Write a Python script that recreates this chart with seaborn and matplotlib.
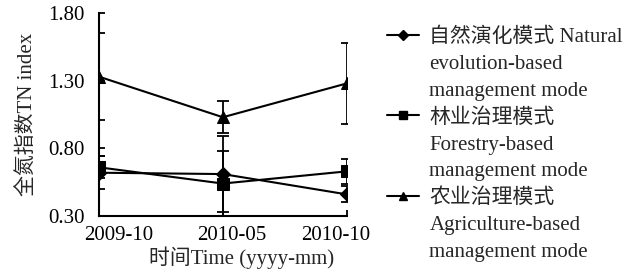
import seaborn as sns
import pandas as pd
import matplotlib.pyplot as plt
from matplotlib.lines import Line2D
from matplotlib.transforms import ScaledTranslation

# Data
times = ["2009-10", "2010-05", "2010-10"]
natural_mean = [0.62, 0.61, 0.46]
natural_err = [0.12, 0.28, 0.06]
forestry_mean = [0.66, 0.54, 0.63]
forestry_err = [0.08, 0.24, 0.09]
agri_mean = [1.33, 1.03, 1.28]
agri_err = [0.32, 0.12, 0.30]

modes = ["natural", "forestry", "agri"]
marker_map = {"natural": "D", "forestry": "s", "agri": "^"}
size_map = {"natural": 7, "forestry": 8, "agri": 9}
legend_labels = [
    ["自然演化模式 Natural", "evolution-based", "management mode"],
    ["林业治理模式", "Forestry-based", "management mode"],
    ["农业治理模式", "Agriculture-based", "management mode"],
]

df = pd.DataFrame({
    "Time": times * 3,
    "TN": natural_mean + forestry_mean + agri_mean,
    "err": natural_err + forestry_err + agri_err,
    "Mode": [m for m in modes for _ in times],
})

sns.set_theme(style="ticks")
plt.rcParams["font.family"] = ["Liberation Serif", "Noto Sans CJK SC"]
plt.rcParams["font.size"] = 15

fig = plt.figure(figsize=(6.34, 2.75), dpi=100)
ax = fig.add_axes([0.156, 0.2145, 0.391, 0.738])

for m in modes:
    sub = df[df["Mode"] == m]
    sns.lineplot(data=sub, x="Time", y="TN", ax=ax, color="black", lw=1.5,
                 marker=marker_map[m], markersize=size_map[m],
                 markeredgecolor="black", legend=False, sort=False)
    ax.errorbar(range(len(times)), sub["TN"], yerr=sub["err"], fmt="none",
                ecolor="black", elinewidth=1.3, capsize=4, capthick=1.3)

ax.set_xlim(0, 2)
ax.set_ylim(0.30, 1.80)
ax.set_yticks([0.30, 0.80, 1.30, 1.80])
ax.set_yticklabels(["0.30", "0.80", "1.30", "1.80"])
ax.set_xticks([0, 1, 2])
ax.set_xticklabels(times)
ax.tick_params(direction="in", length=4, width=1.3, colors="black",
               labelsize=15)
ax.tick_params(axis="y", pad=10)
ax.tick_params(axis="x", pad=7)
for sp in ["top", "right"]:
    ax.spines[sp].set_visible(False)
for sp in ["left", "bottom"]:
    ax.spines[sp].set_linewidth(1.5)
    ax.spines[sp].set_color("black")

# nudge x tick labels like the original layout
for lab, dx in zip(ax.get_xticklabels(), [20, 9, -11]):
    lab.set_transform(lab.get_transform() + ScaledTranslation(dx / 100, 0, fig.dpi_scale_trans))

ax.set_xlabel("时间Time (yyyy-mm)", fontsize=15)
ax.set_ylabel("全氮指数TN index", fontsize=15)
ax.xaxis.set_label_coords(0.577, -0.15)
ax.yaxis.set_label_coords(-0.245, 0.50)

handles, labels = [], []
for m, labs in zip(modes, legend_labels):
    handles.append(Line2D([], [], color="black", lw=1.5, marker=marker_map[m],
                          markersize=size_map[m] * 0.7))
    labels.append(labs[0])
    for extra in labs[1:]:
        handles.append(Line2D([], [], linestyle="none"))
        labels.append(extra)

fig.legend(handles, labels, loc="upper left", bbox_to_anchor=(0.61, 0.90),
           frameon=False, fontsize=15, handlelength=1.55, handletextpad=0.5,
           labelspacing=0.35, borderpad=0, borderaxespad=0)

fig.savefig("out.png", dpi=100, facecolor="white")
